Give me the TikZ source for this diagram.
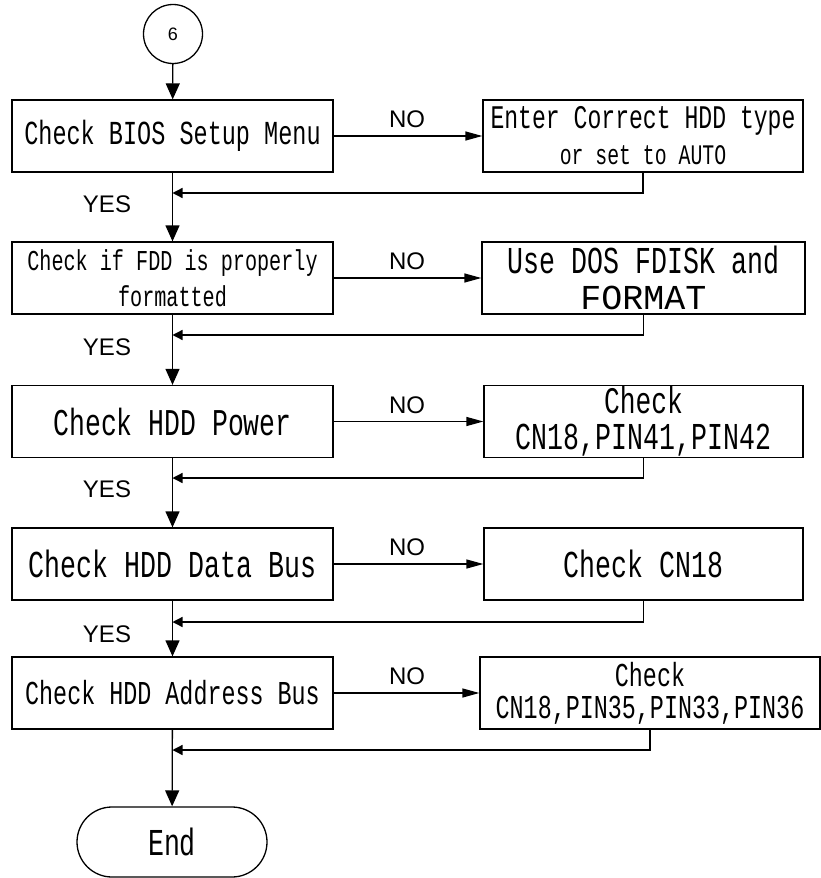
\documentclass[tikz,border=0pt]{standalone}
\usepackage{fontspec}
\usetikzlibrary{arrows.meta,shapes.misc}
\newfontfamily\monof[FakeStretch=0.7]{Liberation Mono}
\newfontfamily\monow{Liberation Mono}
\newfontfamily\sansf{Liberation Sans}
\newcommand\ms[2][36]{\monof\fontsize{#2}{#1}\selectfont}
\tikzset{
  box/.style={draw, line width=1.3pt, inner sep=0pt, minimum height=72pt, align=center},
  lbox/.style={box, minimum width=321pt},
  rbox/.style={box, minimum width=320pt},
  flow/.style={line width=1.3pt},
  downarrow/.style={flow, -{Triangle[width=14pt,length=16pt]}},
  noarrow/.style={flow, -{Triangle[width=9pt,length=17pt]}},
  backarrow/.style={flow, -{Triangle[width=10pt,length=10pt]}},
  lbl/.style={inner sep=0pt, font=\sansf\fontsize{24}{24}\selectfont}
}
\begin{document}
\begin{tikzpicture}[x=1pt,y=-1pt]
\useasboundingbox[fill=white] (0,0) rectangle (821,878);

% start
\node[draw, circle, line width=1.3pt, minimum size=59pt, inner sep=0pt,
      font=\sansf\fontsize{18}{18}\selectfont] (start) at (173,34) {6};

% left boxes
\node[lbox, font=\ms{33.6}] (b1) at (172.5,136) {Check BIOS Setup Menu};
\node[lbox, font=\ms{28.8}] (b2) at (172.5,278) {Check if FDD is properly\\formatted};
\node[lbox, font=\ms{37.8}] (b3) at (172.5,421.5) {Check HDD Power};
\node[lbox, font=\ms{38}] (b4) at (172.5,564) {Check HDD Data Bus};
\node[lbox, font=\ms{33.4}] (b5) at (172.5,693) {Check HDD Address Bus};

% right boxes
\node[rbox, font=\ms{33}] (r1) at (643,136) {Enter Correct HDD type\\\ms{28.3}or set to AUTO};
\node[rbox, minimum width=323pt, font=\ms{38}] (r2) at (643.5,278) {Use DOS FDISK and\\\monow\fontsize{35}{36}\selectfont FORMAT};
\node[rbox, minimum width=319pt, font=\ms{38}] (r3) at (643.5,421.5) {\ms{37.5}Check\\\ms{38}CN18,PIN41,PIN42};
\node[rbox, minimum width=319pt, font=\ms{38}] (r4) at (643.5,564) {Check CN18};
\node[rbox, minimum width=340pt, font={\ms[32]{33.4}}] (r5) at (650,693) {Check\\CN18,PIN35,PIN33,PIN36};

% end
\node[draw, rounded rectangle, line width=1.3pt, minimum width=190pt, minimum height=70pt,
      inner sep=0pt, font=\ms{38}] (end) at (172,842) {End};

% labels
\node[lbl] (no1) at (407,119.5) {NO};
\node[lbl] (no2) at (407,261.5) {NO};
\node[lbl] (no3) at (407,405) {NO};
\node[lbl] (no4) at (407,547.5) {NO};
\node[lbl] (no5) at (407,676.5) {NO};
\node[lbl] (yes1) at (107,204) {YES};
\node[lbl] (yes2) at (107,347) {YES};
\node[lbl] (yes3) at (107,489) {YES};
\node[lbl] (yes4) at (107,634) {YES};

% junction points
\coordinate (j1) at (172.5,193);
\coordinate (j2) at (172.5,335);
\coordinate (j3) at (172.5,478);
\coordinate (j4) at (172.5,622);
\coordinate (j5) at (172.5,750);

% main flow
\draw[downarrow] (start) -- (b1);
\draw[downarrow] (b1) -- (b2);
\draw[downarrow] (b2) -- (b3);
\draw[downarrow] (b3) -- (b4);
\draw[downarrow] (b4) -- (b5);
\draw[downarrow] (b5) -- (end);

% NO branches
\draw[noarrow] (b1) -- (r1);
\draw[noarrow] (b2) -- (r2);
\draw[noarrow] (b3) -- (r3);
\draw[noarrow] (b4) -- (r4);
\draw[noarrow] (b5.east) -- (b5.east -| r5.west);

% returns
\draw[backarrow] (r1.south) |- (j1);
\draw[backarrow] (r2.south) |- (j2);
\draw[backarrow] (r3.south) |- (j3);
\draw[backarrow] (r4.south) |- (j4);
\draw[backarrow] (r5.south) |- (j5);
\end{tikzpicture}
\end{document}
